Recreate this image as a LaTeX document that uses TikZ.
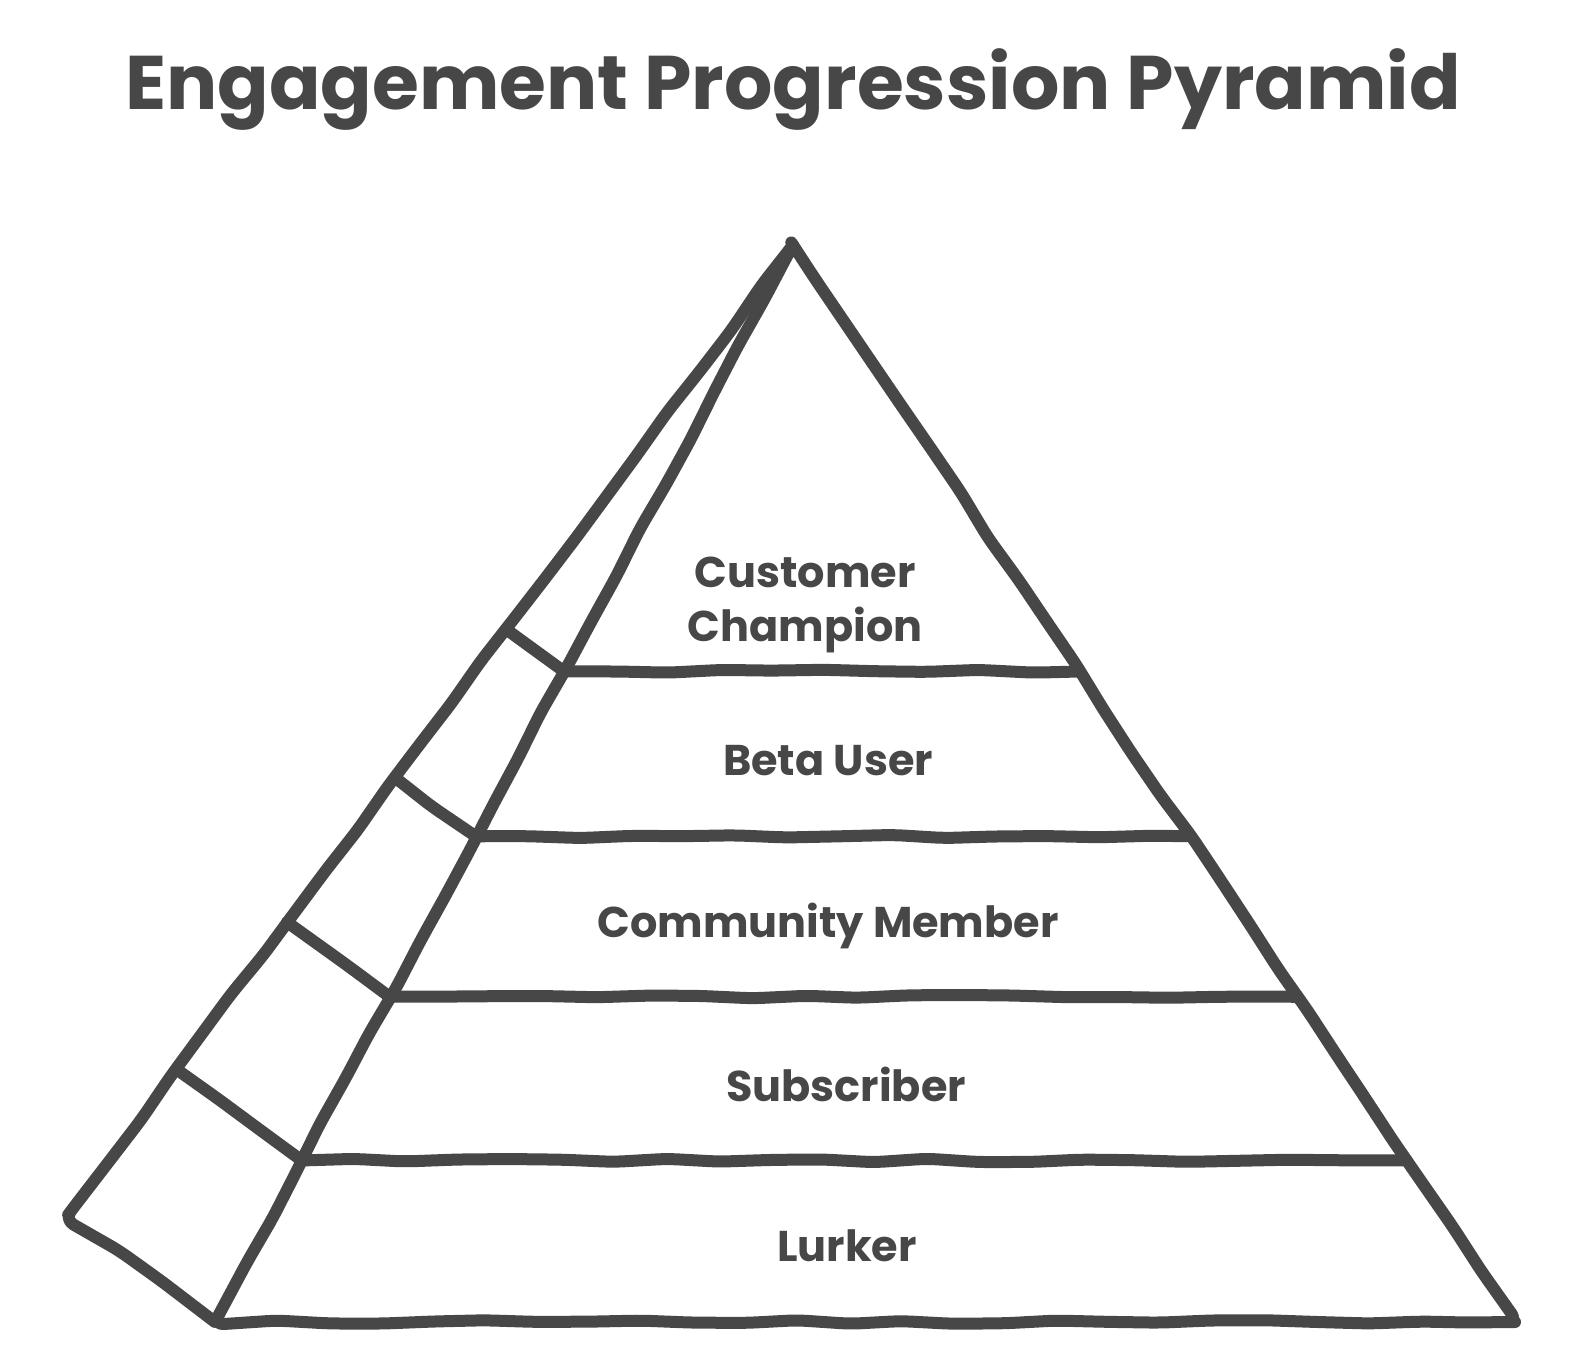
\documentclass[tikz,border=0pt]{standalone}
\usepackage{fontspec}
\setmainfont{Poppins}
\usetikzlibrary{positioning,calc,decorations.pathmorphing}
\definecolor{ink}{HTML}{474747}

\begin{document}
\begin{tikzpicture}[x=0.5pt,y=-0.5pt,
    edge/.style={draw=ink,line width=6pt,line cap=round,line join=round,rounded corners=5pt,
        decorate,decoration={random steps,segment length=26pt,amplitude=0.9pt}},
    tier/.style={font=\fontsize{21.5}{27}\selectfont\bfseries,text=ink,align=center},
    heading/.style={font=\fontsize{38}{46}\selectfont\bfseries,text=ink}
]
\pgfmathsetseed{7}
\useasboundingbox (0,0) rectangle (1584,1358);

\node[heading] (title) at (793,90) {Engagement Progression Pyramid};

% corners of the pyramid
\coordinate (A) at (793,245);
\coordinate (FL) at (215,1322);
\coordinate (FR) at (1515,1322);
\coordinate (BL) at (68,1215);

\foreach \t [count=\i] in {0.396,0.549,0.698,0.850} {
  \coordinate (l\i) at ($(A)!\t!(FL)$);
  \coordinate (r\i) at ($(A)!\t!(FR)$);
  \coordinate (b\i) at ($(A)!\t!(BL)$);
}

\draw[edge] (A) -- (FL) -- (FR) -- cycle;
\draw[edge] (A) -- (BL) -- (FL);
\foreach \i in {1,...,4}
  \draw[edge] (l\i) -- (r\i) (l\i) -- (b\i);

\node[tier] (champion) at (805,605) {Customer\\Champion};
\node[tier] (beta) at (828,761) {Beta User};
\node[tier] (member) at (828,926) {Community Member};
\node[tier] (sub) at (846,1084) {Subscriber};
\node[tier] (lurker) at (847,1246) {Lurker};
\end{tikzpicture}
\end{document}
